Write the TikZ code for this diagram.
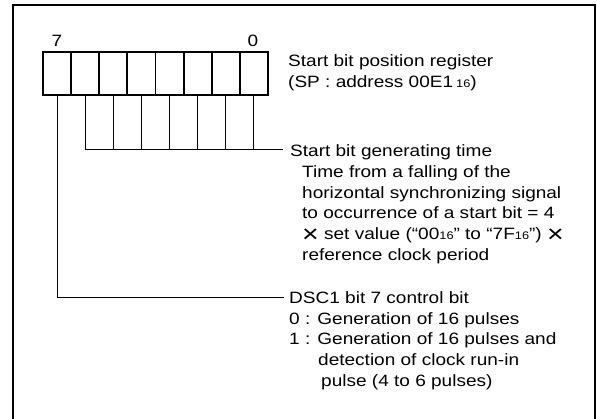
\documentclass[tikz,border=0pt]{standalone}
\usepackage{fontspec}
\setmainfont{Liberation Sans}[FakeStretch=1.16]
\newcommand\subsix{\raisebox{-0.5pt}{\fontsize{11}{11}\selectfont 16}}
\newcommand\bigtimes{\raisebox{-3pt}{\scalebox{1.5}{×}}}
\begin{document}
\begin{tikzpicture}[x=1pt,y=-1pt,
  cell/.style={draw,line width=1.8pt,minimum width=28.125pt,minimum height=43pt,inner sep=0pt},
  frame/.style={line width=2.2pt},
  lead/.style={line width=1pt},
  label/.style={inner sep=0pt,anchor=base west,font=\fontsize{16.4}{20.7}\selectfont},
  bitnum/.style={inner sep=0pt,anchor=base,font=\fontsize{16.4}{20.7}\selectfont}]
\useasboundingbox (0,0) rectangle (597,419);
\draw[frame] (13,430) -- (13,5) -- (595,5) -- (595,430);
\foreach \b [count=\k from 0] in {7,...,0}
  \node[cell] (c\b) at ({43+28.125*(\k+0.5)},73.5) {};
\node[bitnum] (n7) at (57,46.5) {7};
\node[bitnum] (n0) at (253,46.5) {0};
\node[label] (t1) at (288,66.5) {\begin{tabular}[t]{@{}l@{}}Start bit position register\\(SP : address 00E1\hspace{3pt}\subsix)\end{tabular}};
\node[label] (t2) at (290,156.7) {\begin{tabular}[t]{@{}l@{}}Start bit generating time\\
\hspace{12pt}Time from a falling of the\\
\hspace{12pt}horizontal synchronizing signal\\
\hspace{12pt}to occurrence of a start bit = 4\\
\hspace{12pt}\bigtimes{} set value (“00\subsix” to “7F\subsix”) \bigtimes\\
\hspace{12pt}reference clock period\end{tabular}};
\node[label] (t3) at (289,303.5) {\begin{tabular}[t]{@{}l@{}}DSC1 bit 7 control bit\\
0 : Generation of 16 pulses\\
1 : Generation of 16 pulses and\\
\hspace{29pt}detection of clock run-in\\
\hspace{32pt}pulse (4 to 6 pulses)\end{tabular}};
\coordinate (j7) at (284,297.5);
\coordinate (j6) at (283,150);
\draw[lead] (c7.south) |- (j7);
\draw[lead] (c6.south) |- (j6);
\foreach \b in {5,...,0}
  \draw[lead] (c\b.south) -- (c\b.south |- j6);
\end{tikzpicture}
\end{document}
